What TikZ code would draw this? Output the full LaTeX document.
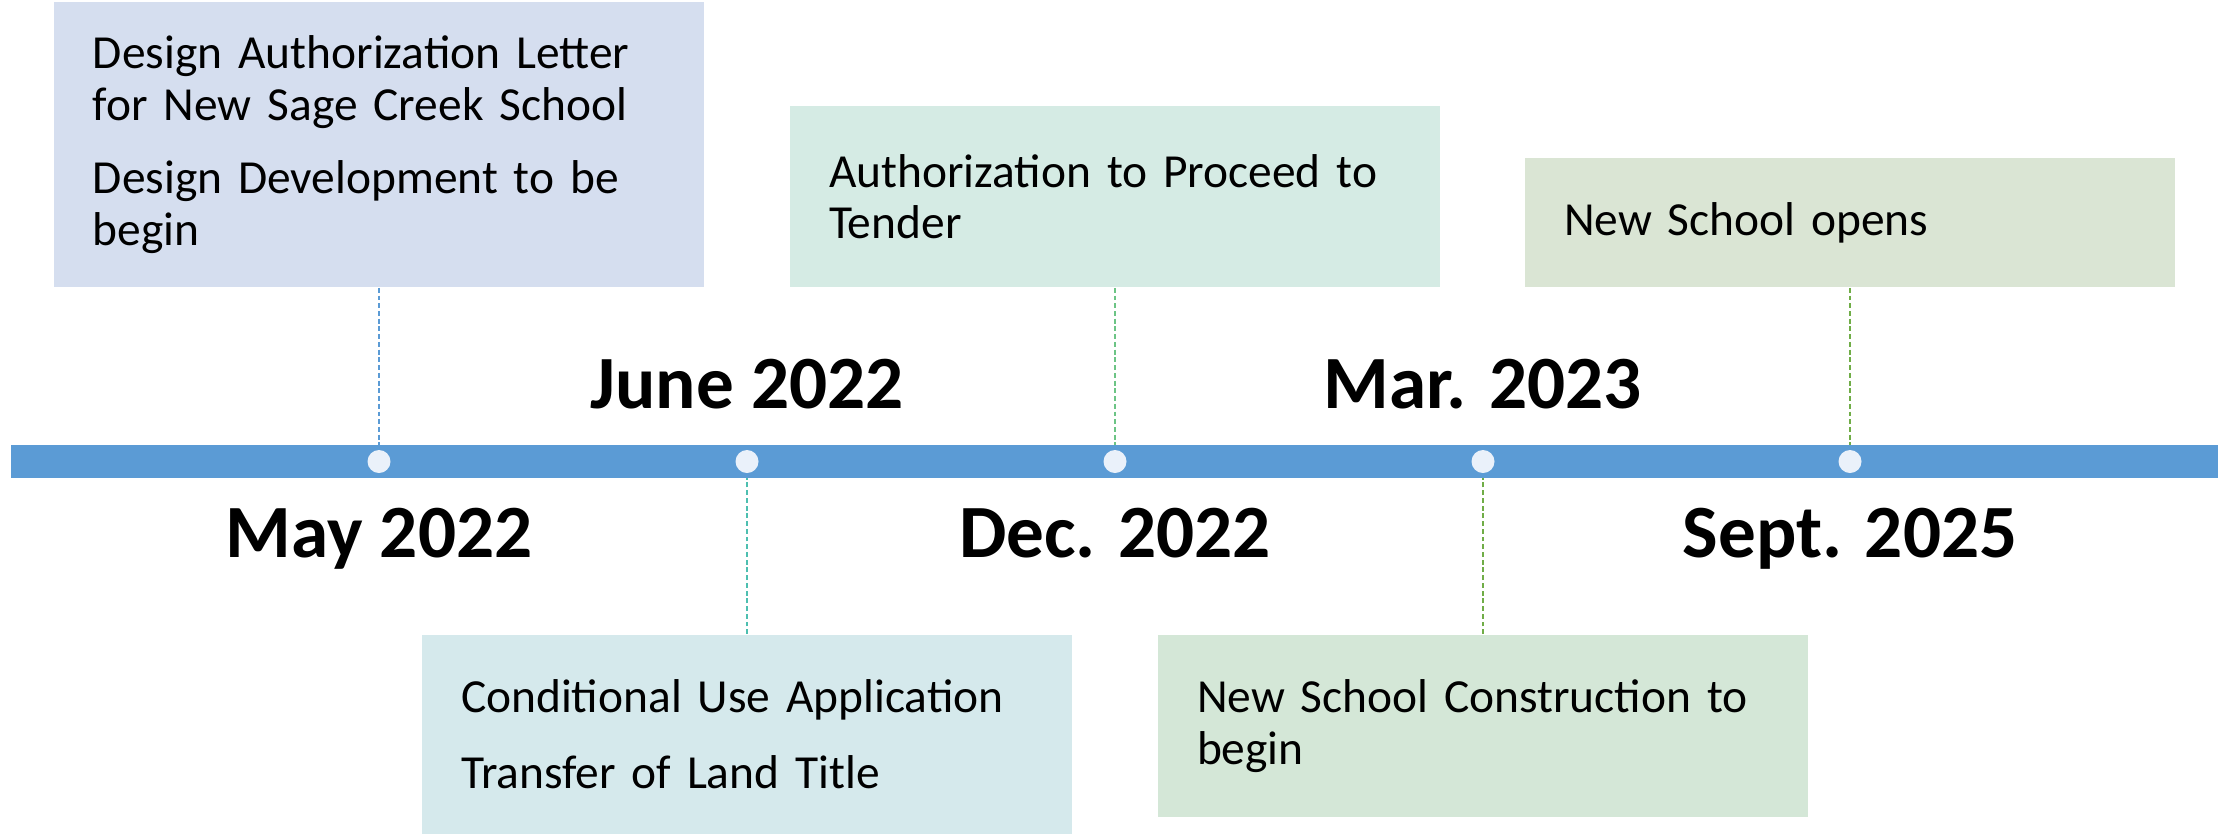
\documentclass[tikz,border=0pt]{standalone}
\usepackage{fontspec}
\setmainfont{Carlito}
\usetikzlibrary{positioning, backgrounds}

\definecolor{barblue}{HTML}{5B9BD5}
\definecolor{knobfill}{HTML}{EAF1FA}
\definecolor{boxA}{HTML}{D5DEEF}
\definecolor{boxB}{HTML}{D5E9EC}
\definecolor{boxC}{HTML}{D5EBE4}
\definecolor{boxD}{HTML}{D4E7D7}
\definecolor{boxE}{HTML}{DAE5D4}
\definecolor{lineA}{HTML}{5B9BD5}
\definecolor{lineB}{HTML}{4DBFB0}
\definecolor{lineC}{HTML}{6CC485}
\definecolor{lineD}{HTML}{70AD47}

\begin{document}
\begin{tikzpicture}[%
%
    milestone/.style={circle, fill=knobfill, minimum size=0.23cm, inner sep=0pt},
    evbox/.style={rectangle, inner xsep=0.39cm, inner ysep=0pt, text width=5.72cm,
                  align=left, font=\fontsize{13.5}{14.65}\selectfont},
    datelabel/.style={anchor=base, inner sep=0pt, font=\bfseries\fontsize{21.4}{25}\selectfont},
    link/.style={dash pattern=on 1.4pt off 0.8pt, line width=0.45pt},
                        ]
    \useasboundingbox (0,0) rectangle (22.34,-8.33);

    % points on the time line
    \node[milestone] (d1) at (3.79,-4.615) {};
    \node[milestone] (d2) at (7.47,-4.615) {};
    \node[milestone] (d3) at (11.15,-4.615) {};
    \node[milestone] (d4) at (14.83,-4.615) {};
    \node[milestone] (d5) at (18.50,-4.615) {};

    % dates
    \node[datelabel] (may)  at (3.79,-5.57)  {May 2022};
    \node[datelabel] (june) at (7.47,-4.08)  {June 2022};
    \node[datelabel] (dec)  at (11.15,-5.57) {Dec. 2022};
    \node[datelabel] (mar)  at (14.83,-4.08) {Mar. 2023};
    \node[datelabel] (sept) at (18.50,-5.57) {Sept. 2025};

    % events
    \node[evbox, fill=boxA, minimum height=2.85cm, above=1.615cm of d1] (design)
        {Design Authorization Letter\\for New Sage Creek School\\[6.4pt]Design Development to be\\begin};
    \node[evbox, fill=boxB, minimum height=1.99cm, below=1.605cm of d2] (landuse)
        {Conditional Use Application\\[7pt]Transfer of Land Title};
    \node[evbox, fill=boxC, minimum height=1.81cm, above=1.615cm of d3] (tender)
        {Authorization to Proceed to\\Tender};
    \node[evbox, fill=boxD, minimum height=1.82cm, below=1.605cm of d4] (build)
        {New School Construction to\\begin};
    \node[evbox, fill=boxE, minimum height=1.29cm, above=1.615cm of d5] (opens)
        {New School opens};

    \begin{scope}[on background layer]
        \draw[link, lineA] (design)  -- (d1);
        \draw[link, lineB] (landuse) -- (d2);
        \draw[link, lineC] (tender)  -- (d3);
        \draw[link, lineD] (build)   -- (d4);
        \draw[link, lineD] (opens)   -- (d5);
        \fill[barblue] (0.11,-4.45) rectangle (22.18,-4.78);
    \end{scope}

\end{tikzpicture}
\end{document}
